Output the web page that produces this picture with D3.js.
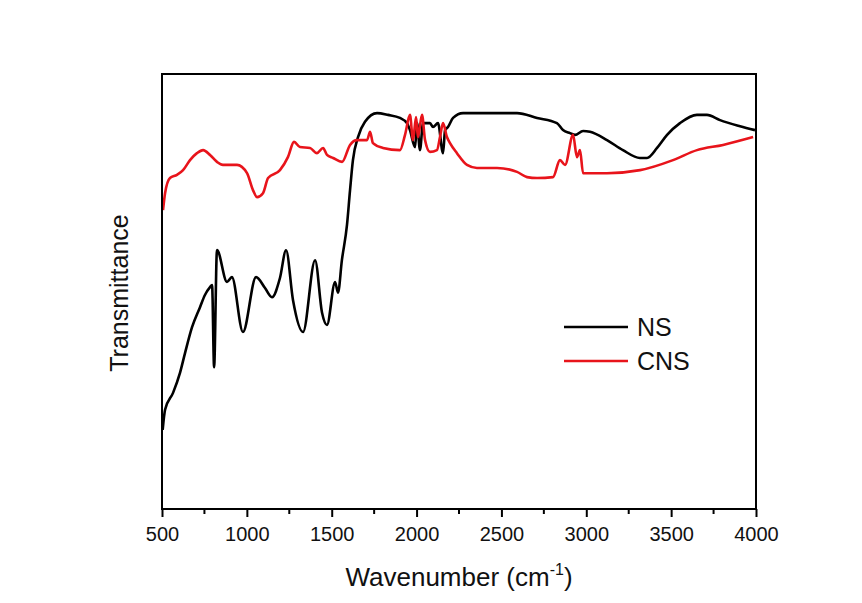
<!DOCTYPE html>
<html>
<head>
<meta charset="utf-8">
<script src="https://cdn.jsdelivr.net/npm/d3@7"></script>
<style>
  body { margin: 0; background: #fff; }
  svg { font-family: Arial, "Liberation Sans", sans-serif; }
</style>
</head>
<body>
<div id="chart"></div>
<script>
// FTIR spectra, transmittance in arbitrary units (0-100)
const nsWave = [504, 518, 565, 606, 636, 677, 724, 753, 783, 795, 807, 824, 883, 912, 977, 1054, 1107, 1148, 1195, 1231,
  1272, 1331, 1402, 1443, 1472, 1520, 1537, 1560, 1590, 1608, 1625, 1655, 1696, 1767, 1832, 1902, 1944, 1961, 1991, 2003,
  2020, 2038, 2079, 2097, 2126, 2156, 2168, 2185, 2215, 2274, 2474, 2592, 2710, 2827, 2863, 2904, 2934, 2981, 3022, 3122,
  3216, 3316, 3358, 3417, 3476, 3552, 3652, 3711, 3788, 3906, 3994];
const nsValues = [18.2, 22.8, 26.7, 31.3, 35.9, 41.8, 46.4, 49.2, 51.0, 51.5, 32.6, 59.5, 52.2, 53.3, 40.7, 53.3, 50.8, 48.7, 53.1, 59.5,
  48.0, 40.7, 57.2, 45.1, 42.3, 52.2, 49.7, 57.2, 65.3, 73.3, 80.2, 85.5, 89.0, 91.0, 90.6, 89.9, 88.7, 87.1, 83.2, 88.7,
  82.5, 88.7, 88.7, 87.8, 88.7, 81.8, 87.1, 87.8, 89.9, 91.0, 91.0, 91.0, 89.9, 88.7, 87.1, 86.4, 86.0, 86.9, 86.7, 84.8,
  82.5, 80.7, 80.7, 83.0, 86.0, 88.7, 90.6, 90.6, 89.4, 88.0, 87.1];

const cnsWave = [506, 518, 547, 588, 624, 665, 706, 742, 783, 824, 859, 942, 1001, 1036, 1060, 1095, 1125, 1195, 1242, 1278,
  1313, 1372, 1413, 1449, 1472, 1508, 1561, 1608, 1649, 1708, 1726, 1743, 1802, 1902, 1932, 1961, 1979, 1997, 2008, 2032,
  2050, 2079, 2120, 2138, 2156, 2179, 2197, 2238, 2297, 2356, 2474, 2592, 2651, 2710, 2804, 2845, 2875, 2922, 2945, 2963,
  2981, 3122, 3317, 3511, 3652, 3806, 3983];
const cnsValues = [68.7, 72.6, 76.1, 76.8, 77.9, 80.2, 81.8, 82.5, 81.4, 79.8, 79.1, 79.1, 77.2, 73.3, 71.7, 72.6, 76.1, 77.9, 80.9, 84.4,
  83.2, 83.0, 81.8, 83.0, 81.4, 80.7, 79.8, 83.7, 84.8, 84.8, 86.7, 84.1, 83.0, 82.5, 86.0, 90.6, 84.8, 90.1, 85.5, 90.6,
  84.8, 82.1, 82.5, 85.5, 88.7, 85.5, 84.1, 81.8, 79.1, 78.4, 78.4, 77.5, 76.3, 76.1, 76.3, 80.2, 79.1, 86.0, 80.9, 82.5,
  77.2, 77.2, 77.9, 80.2, 82.5, 83.7, 85.5];

const xTicks = [500, 1000, 1500, 2000, 2500, 3000, 3500, 4000];
const seriesNames = ['NS', 'CNS'];
const seriesColors = ['#000000', '#e8141b'];

const width = 862, height = 603;
const margin = { top: 74, right: 106, bottom: 94, left: 162 };
const innerW = width - margin.left - margin.right;
const innerH = height - margin.top - margin.bottom;

const svg = d3.select('#chart').append('svg')
  .attr('width', width)
  .attr('height', height);

const g = svg.append('g')
  .attr('transform', `translate(${margin.left},${margin.top})`);

const x = d3.scaleLinear().domain([500, 4000]).range([0, innerW]);
const y = d3.scaleLinear().domain([0, 100]).range([innerH, 0]);

// clip so curves stay inside the frame
g.append('defs').append('clipPath').attr('id', 'plot-clip')
  .append('rect').attr('width', innerW).attr('height', innerH);

const line = d3.line()
  .x(d => x(d[0]))
  .y(d => y(d[1]))
  .curve(d3.curveMonotoneX);

const series = [
  d3.zip(nsWave, nsValues),
  d3.zip(cnsWave, cnsValues)
];

// NS first, CNS drawn on top (red sits over black around 2000)
[0, 1].forEach(i => {
  g.append('path')
    .datum(series[i])
    .attr('clip-path', 'url(#plot-clip)')
    .attr('fill', 'none')
    .attr('stroke', seriesColors[i])
    .attr('stroke-width', 2.6)
    .attr('stroke-linejoin', 'round')
    .attr('d', line);
});

// frame
g.append('rect')
  .attr('width', innerW)
  .attr('height', innerH)
  .attr('fill', 'none')
  .attr('stroke', '#000')
  .attr('stroke-width', 2);

// bottom axis with major + minor ticks
const minorTicks = d3.range(750, 4000, 500);
g.append('g')
  .attr('transform', `translate(0,${innerH})`)
  .selectAll('line.minor')
  .data(minorTicks)
  .join('line')
  .attr('x1', d => x(d)).attr('x2', d => x(d))
  .attr('y1', 0).attr('y2', 5)
  .attr('stroke', '#000').attr('stroke-width', 2);

const xAxis = d3.axisBottom(x)
  .tickValues(xTicks)
  .tickSize(8)
  .tickPadding(10)
  .tickFormat(d3.format('d'));

const xAxisG = g.append('g')
  .attr('transform', `translate(0,${innerH})`)
  .call(xAxis);
xAxisG.select('.domain').remove();
xAxisG.selectAll('.tick line').attr('stroke-width', 2);
xAxisG.selectAll('.tick text')
  .attr('font-size', 20)
  .attr('font-family', 'Arial, "Liberation Sans", sans-serif')
  .attr('fill', '#111');

// axis titles
const xTitle = svg.append('text')
  .attr('x', margin.left + innerW / 2)
  .attr('y', 586)
  .attr('text-anchor', 'middle')
  .attr('font-size', 26)
  .attr('fill', '#111');
xTitle.append('tspan').text('Wavenumber (cm');
xTitle.append('tspan').attr('font-size', 16).attr('dy', -11).text('-1');
xTitle.append('tspan').attr('dy', 11).text(')');

svg.append('text')
  .attr('transform', `translate(128,293) rotate(-90)`)
  .attr('text-anchor', 'middle')
  .attr('font-size', 25)
  .attr('fill', '#111')
  .text('Transmittance');

// legend
const legend = svg.append('g').attr('transform', 'translate(564,327)');
seriesNames.forEach((name, i) => {
  const row = legend.append('g').attr('transform', `translate(0,${i * 34})`);
  row.append('line')
    .attr('x1', 0).attr('x2', 64)
    .attr('stroke', seriesColors[i])
    .attr('stroke-width', 2.6);
  row.append('text')
    .attr('x', 73)
    .attr('y', 9)
    .attr('font-size', 25)
    .attr('fill', '#111')
    .text(name);
});
</script>
</body>
</html>
